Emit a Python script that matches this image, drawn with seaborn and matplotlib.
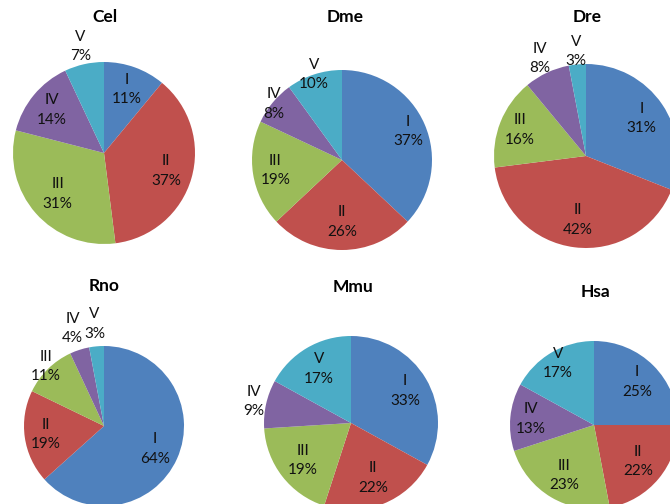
import matplotlib
matplotlib.use("Agg")
import matplotlib.pyplot as plt
import seaborn as sns
import numpy as np

# ---------------- data ----------------
species = ["Cel", "Dme", "Dre", "Rno", "Mmu", "Hsa"]
categories = ["I", "II", "III", "IV", "V"]
cel_pct = [11, 37, 31, 14, 7]
dme_pct = [37, 26, 19, 8, 10]
dre_pct = [31, 42, 16, 8, 3]
rno_pct = [64, 19, 11, 4, 3]
mmu_pct = [33, 22, 19, 9, 17]
hsa_pct = [25, 22, 23, 13, 17]
values = {"Cel": cel_pct, "Dme": dme_pct, "Dre": dre_pct,
          "Rno": rno_pct, "Mmu": mmu_pct, "Hsa": hsa_pct}

# ---------------- layout (pixels) ----------------
W, H = 670, 504
centers = {"Cel": (104, 153), "Dme": (342, 160), "Dre": (586, 156),
           "Rno": (104, 426), "Mmu": (351, 423), "Hsa": (594, 425)}
radii = {"Cel": 91, "Dme": 90, "Dre": 92, "Rno": 80, "Mmu": 87, "Hsa": 84}
title_pos = {"Cel": (105, 17), "Dme": (345, 17), "Dre": (587, 17),
             "Rno": (104, 286), "Mmu": (353, 287), "Hsa": (596, 292)}
label_r = {"Cel": [0.74, 0.71, 0.68, 0.74, 1.20],
           "Dme": [0.80, 0.69, 0.75, 0.98, 1.00],
           "Dre": [0.73, 0.70, 0.77, 1.17, 1.14],
           "Rno": [0.70, 0.74, 1.04, 1.28, 1.28],
           "Mmu": [0.72, 0.68, 0.70, 1.14, 0.72],
           "Hsa": [0.72, 0.68, 0.70, 0.76, 0.85]}

sns.set_theme(style="white")
plt.rcParams['font.family'] = ['Lato', 'DejaVu Sans']
palette = sns.color_palette(["#4F81BD", "#C0504D", "#9BBB59", "#8064A2", "#4BACC6"])

fig = plt.figure(figsize=(W / 100, H / 100), dpi=100)
fig.patch.set_facecolor("white")

k = 1.6
for sp in species:
    cx, cy = centers[sp]
    r = radii[sp]
    h = k * r
    ax = fig.add_axes([(cx - h) / W, (H - cy - h) / H, 2 * h / W, 2 * h / H])
    ax.patch.set_visible(False)
    wedges, _ = ax.pie(values[sp], colors=palette, startangle=90,
                       counterclock=False, radius=1,
                       wedgeprops=dict(linewidth=0))
    ax.set_xlim(-k, k)
    ax.set_ylim(-k, k)
    ax.set_aspect('auto')
    ax.axis('off')
    for w, cat, v, lr in zip(wedges, categories, values[sp], label_r[sp]):
        mid = np.deg2rad((w.theta1 + w.theta2) / 2)
        ax.text(lr * np.cos(mid), lr * np.sin(mid), f"{cat}\n{v}%",
                ha='center', va='center', fontsize=11, linespacing=1.5,
                color='#111111', clip_on=False)
    tx, ty = title_pos[sp]
    fig.text(tx / W, 1 - ty / H, sp, ha='center', va='center',
             fontsize=12.5, fontweight='bold', color='black')

fig.savefig("out.png", dpi=100, facecolor="white")
